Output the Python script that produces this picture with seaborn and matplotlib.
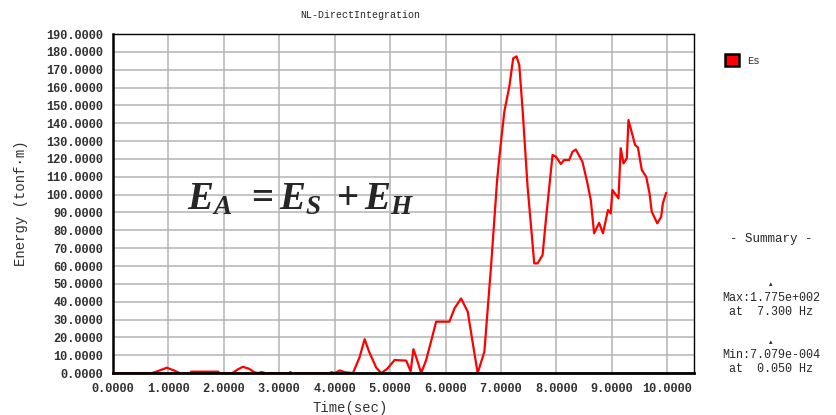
import numpy as np
import pandas as pd
import matplotlib
matplotlib.use("Agg")
import matplotlib.pyplot as plt
import seaborn as sns
from matplotlib.patches import Patch
from matplotlib.ticker import FormatStrFormatter, MultipleLocator

# energy history
time_s = [0.00, 0.70, 0.80, 0.97, 1.10, 1.20, 1.40, 1.41, 1.90, 1.91, 2.15, 2.25,
          2.34, 2.45, 2.55, 2.62, 2.68, 2.75, 3.18, 3.20, 3.22, 3.90, 3.95, 4.00,
          4.09, 4.18, 4.33, 4.45, 4.54, 4.62, 4.75, 4.84, 4.95, 5.08, 5.29, 5.37,
          5.42, 5.48, 5.56, 5.65, 5.74, 5.83, 6.07, 6.16, 6.28, 6.40, 6.50, 6.58,
          6.70, 6.82, 6.93, 6.97, 7.06, 7.15, 7.22, 7.28, 7.33, 7.39, 7.48, 7.60,
          7.66, 7.75, 7.81, 7.93, 7.99, 8.08, 8.14, 8.23, 8.29, 8.35, 8.47, 8.56,
          8.62, 8.68, 8.77, 8.84, 8.93, 8.98, 9.01, 9.12, 9.16, 9.21, 9.27, 9.30,
          9.42, 9.47, 9.54, 9.62, 9.68, 9.72, 9.82, 9.89, 9.92, 9.98]
energy = [0.0, 0.0, 1.0, 3.0, 1.5, 0.0, 0.0, 0.8, 0.8, 0.0, 0.0, 2.0,
          3.5, 2.5, 0.5, 0.0, 0.6, 0.0, 0.0, 0.6, 0.0, 0.0, 0.5, 0.0,
          1.5, 0.5, 0.0, 9.0, 19.0, 12.0, 3.0, 0.0, 2.5, 7.3, 7.0, 1.0,
          13.4, 8.0, 0.0, 7.3, 18.0, 28.8, 28.8, 36.2, 41.8, 34.4, 15.0, 0.0,
          12.0, 59.6, 108.0, 121.0, 146.5, 160.5, 176.4, 177.5, 172.6, 147.4, 104.4, 61.5,
          61.5, 66.1, 85.8, 122.2, 121.3, 117.2, 119.4, 119.4, 124.0, 125.3, 118.4, 106.3,
          97.0, 78.3, 84.2, 78.3, 91.4, 89.5, 102.6, 97.9, 126.0, 117.5, 120.3, 141.8,
          127.8, 126.5, 113.8, 110.0, 100.7, 90.4, 83.9, 87.6, 95.1, 101.0]

summary_lines = ["Max:1.775e+002", "at  7.300 Hz", "Min:7.079e-004", "at  0.050 Hz"]

sns.set_style("whitegrid")
mono = ["Liberation Mono", "DejaVu Sans Mono"]
plt.rcParams.update({
    "font.family": mono,
    "mathtext.fontset": "custom",
    "mathtext.it": "Liberation Serif:italic:bold",
    "mathtext.rm": "Liberation Serif:bold",
    "mathtext.bf": "Liberation Serif:bold",
})

df = pd.DataFrame({"time": time_s, "Es": energy})

fig = plt.figure(figsize=(8.37, 4.15), dpi=100)
ax = fig.add_axes([0.135, 0.101, 0.694, 0.817])

sns.lineplot(data=df, x="time", y="Es", ax=ax, color="#ff0000", linewidth=1.6)

ax.set_xlim(0, 10.48)
ax.set_ylim(0, 190)
ax.xaxis.set_major_locator(MultipleLocator(1))
ax.yaxis.set_major_locator(MultipleLocator(10))
ax.xaxis.set_major_formatter(FormatStrFormatter("%.4f"))
ax.yaxis.set_major_formatter(FormatStrFormatter("%.4f"))
ax.grid(True, color="#b4b4b4", linewidth=1.1)
ax.tick_params(axis="both", labelsize=8.6, labelcolor="#303030", color="black",
               length=5, width=1, direction="out", pad=2)
for lab in ax.get_xticklabels() + ax.get_yticklabels():
    lab.set_fontweight("bold")
for side, spine in ax.spines.items():
    spine.set_visible(True)
    spine.set_color("black")
    spine.set_linewidth(1.0)
ax.spines["left"].set_linewidth(1.8)
ax.spines["bottom"].set_linewidth(2.0)

ax.set_xlabel("")
ax.set_ylabel("Energy (tonf\u00b7m)", fontsize=10, labelpad=13, color="#303030")
fig.text(350 / 837, 1 - 408 / 415, "Time(sec)", fontsize=10, ha="center",
         va="center", color="#303030")

fig.text(360 / 837, 1 - 15 / 415, "NL-DirectIntegration", fontsize=7.2,
         ha="center", va="center")

ax.text(0.128, 0.484, r"$E_A\;\,=E_S\;+E_H$", transform=ax.transAxes, fontsize=28,
        ha="left", va="baseline")

handles = [Patch(facecolor="#ff0000", edgecolor="black", linewidth=1.8)]
fig.legend(handles, ["Es"], loc="center left", bbox_to_anchor=(0.855, 0.855),
           frameon=False, handlelength=1.3, handleheight=1.3, fontsize=7.5)

fig.text(771 / 837, 1 - 239 / 415, "- Summary -", fontsize=9, ha="center", va="center")
fig.text(771 / 837, 1 - 284 / 415, "\u25b4", fontsize=5, ha="center", va="center",
         family=["DejaVu Sans"])
fig.text(771 / 837, 1 - 298 / 415, summary_lines[0], fontsize=8.5, ha="center", va="center")
fig.text(771 / 837, 1 - 312 / 415, summary_lines[1], fontsize=8.5, ha="center", va="center")
fig.text(771 / 837, 1 - 342 / 415, "\u25b4", fontsize=5, ha="center", va="center",
         family=["DejaVu Sans"])
fig.text(771 / 837, 1 - 355 / 415, summary_lines[2], fontsize=8.5, ha="center", va="center")
fig.text(771 / 837, 1 - 369 / 415, summary_lines[3], fontsize=8.5, ha="center", va="center")

fig.savefig("out.png", dpi=100)
